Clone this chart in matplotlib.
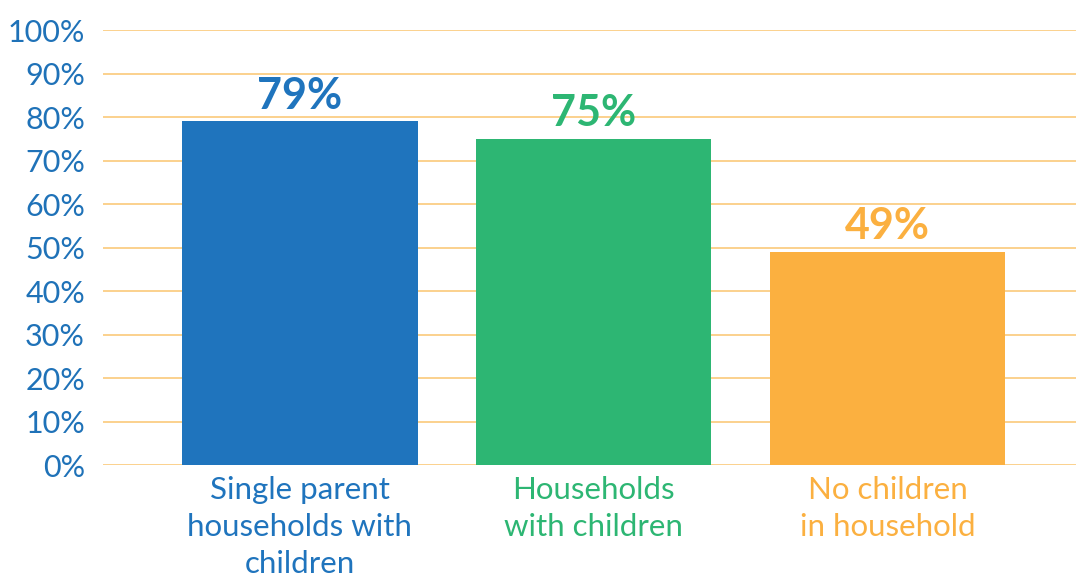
import matplotlib
matplotlib.use("Agg")
import matplotlib.pyplot as plt
from matplotlib.ticker import FuncFormatter, MultipleLocator

categories = ["Single parent\nhouseholds with\nchildren", "Households\nwith children", "No children\nin household"]
values = [79, 75, 49]
value_labels = ["79%", "75%", "49%"]
colors = ["#1F74BD", "#2DB673", "#FBB040"]

plt.rcParams['font.family'] = ['Lato', 'DejaVu Sans']

fig = plt.figure(figsize=(10.76, 5.78), dpi=100)
ax = fig.add_axes([0.0957, 0.1955, 0.9043, 0.7525])

x = list(range(len(values)))
ax.bar(x, values, width=0.80, color=colors, zorder=3)
ax.set_ylim(0, 100)
ax.set_xlim(-0.67, 2.64)
ax.yaxis.set_major_locator(MultipleLocator(10))
ax.yaxis.set_major_formatter(FuncFormatter(lambda v, p: f"{int(round(v))}%"))
ax.grid(axis='y', color='#FBC97A', linewidth=1.2, zorder=0)
ax.set_axisbelow(True)
for s in ax.spines.values():
    s.set_visible(False)
ax.tick_params(axis='y', length=0, pad=13, labelsize=22, labelcolor='#1F72B8')
ax.tick_params(axis='x', length=0, pad=8)
ax.set_xticks(x)
ax.set_xticklabels(categories, fontsize=22.5, linespacing=1.38, va='top')
for lbl, c in zip(ax.get_xticklabels(), colors):
    lbl.set_color(c)

for xi, v, t, c in zip(x, values, value_labels, colors):
    ax.text(xi, v + 1.3, t, ha='center', va='bottom', fontsize=31, fontweight='bold', color=c)

fig.savefig("out.png", dpi=100)
